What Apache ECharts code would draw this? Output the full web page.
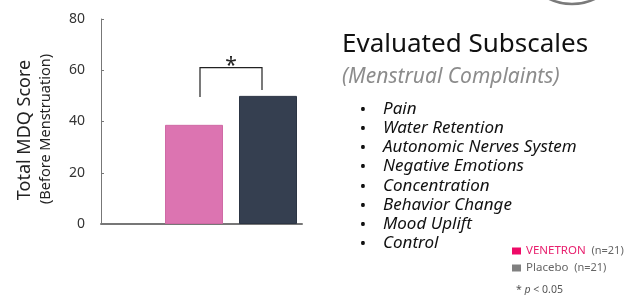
<!DOCTYPE html>
<html>
<head>
<meta charset="utf-8">
<script src="https://cdn.jsdelivr.net/npm/echarts@6/dist/echarts.min.js"></script>
<style>
html,body{margin:0;padding:0;background:#fff;}
#chart{width:624px;height:295px;}
</style>
</head>
<body>
<div id="chart"></div>
<script>
// ---- data ----
const categories = ['VENETRON', 'Placebo'];
const scores = [38.7, 50];
const groupN = [21, 21];
const yMin = 0, yMax = 80, yInterval = 20;
const bracketLeft = 49.6, bracketRight = 52.3, bracketTop = 61;
const sigLabel = '*';
const pThreshold = '0.05';
const yTitle = 'Total MDQ Score';
const ySubTitle = '(Before Menstruation)';
const panelTitle = 'Evaluated Subscales';
const panelSubtitle = '(Menstrual Complaints)';
const subscales = ['Pain', 'Water Retention', 'Autonomic Nerves System', 'Negative Emotions',
  'Concentration', 'Behavior Change', 'Mood Uplift', 'Control'];

// ---- styles ----
const barColors = ['#dc74b1', '#353f50'];
const legendColors = ['#ee0a67', '#808080'];
const FONT = 'Noto Sans';

const chart = echarts.init(document.getElementById('chart'), null, {renderer: 'canvas'});

const barSeries = categories.map((c, i) => ({
  type: 'bar', name: c, xAxisIndex: 1, yAxisIndex: 1,
  data: categories.map((_, j) => j === i ? scores[i] : '-'),
  barWidth: 58, barGap: '-100%',
  itemStyle: {color: barColors[i], borderColor: i === 0 ? '#cf6aa5' : '#2c3544', borderWidth: 1},
  silent: true
}));

const bracketSeries = {
  type: 'custom', xAxisIndex: 1, yAxisIndex: 1, silent: true, clip: false,
  data: [[0, 1, bracketLeft, bracketRight, bracketTop]],
  encode: {x: [0, 1], y: [2, 3, 4]},
  renderItem: function (params, api) {
    const a = api.coord([api.value(0), api.value(2)]);
    const b = api.coord([api.value(0), api.value(4)]);
    const c = api.coord([api.value(1), api.value(4)]);
    const d = api.coord([api.value(1), api.value(3)]);
    const inset = 6;
    return {
      type: 'group',
      children: [{
        type: 'polyline',
        shape: {points: [[a[0] + inset, a[1]], [b[0] + inset, b[1]], [c[0] - inset, c[1]], [d[0] - inset, d[1]]]},
        style: {stroke: '#222', lineWidth: 1.2, fill: null}
      }, {
        type: 'text',
        style: {text: sigLabel, x: (b[0] + c[0]) / 2, y: b[1] + 9, align: 'center', verticalAlign: 'bottom',
          fontSize: 21, fontFamily: FONT, fill: '#222'}
      }]
    };
  }
};

const graphics = [
  {type: 'text', rotation: Math.PI / 2, x: 25, y: 130,
    style: {text: yTitle, align: 'center', verticalAlign: 'middle', fontSize: 18, fontFamily: FONT, fill: '#222'}},
  {type: 'text', rotation: Math.PI / 2, x: 46, y: 129,
    style: {text: ySubTitle, align: 'center', verticalAlign: 'middle', fontSize: 14.5, fontFamily: FONT, fill: '#222'}},
  {type: 'text', x: 342, y: 45,
    style: {text: panelTitle, align: 'left', verticalAlign: 'middle', fontSize: 26, fontFamily: FONT, fill: '#111'}},
  {type: 'text', x: 342, y: 77,
    style: {text: panelSubtitle, align: 'left', verticalAlign: 'middle', fontSize: 21, fontStyle: 'italic', fontFamily: FONT, fill: '#8c8c8c'}},
  {type: 'text', x: 516, y: 290,
    style: {text: '* {i|p} < ' + pThreshold, align: 'left', verticalAlign: 'middle', fontSize: 10.5, fontFamily: FONT, fill: '#555',
      rich: {i: {fontStyle: 'italic', fontSize: 10.5, fontFamily: FONT, fill: '#555'}}}},
  {type: 'circle', shape: {cx: 572, cy: -48, r: 52}, style: {stroke: '#7a7a7a', lineWidth: 2.5, fill: null}}
];

subscales.forEach((s, i) => {
  const y = 109 + i * 19.2;
  graphics.push({type: 'text', x: 363, y: y + 1,
    style: {text: '•', align: 'center', verticalAlign: 'middle', fontSize: 17, fontFamily: FONT, fill: '#111'}});
  graphics.push({type: 'text', x: 383, y: y,
    style: {text: s, align: 'left', verticalAlign: 'middle', fontSize: 17, fontStyle: 'italic', fontFamily: FONT, fill: '#111'}});
});

const option = {
  animation: false,
  grid: [
    {left: 101, width: 201, top: 19, height: 205, containLabel: false},
    {left: 157, width: 148, top: 19, height: 205, containLabel: false}
  ],
  xAxis: [
    {gridIndex: 0, type: 'category', data: [''], axisLine: {lineStyle: {color: '#777', width: 2}},
      axisTick: {show: false}, axisLabel: {show: false}},
    {gridIndex: 1, type: 'category', data: categories, show: false}
  ],
  yAxis: [
    {gridIndex: 0, type: 'value', min: yMin, max: yMax, interval: yInterval,
      axisLine: {show: true, lineStyle: {color: '#777', width: 1}},
      axisTick: {show: true, inside: true, length: 3, lineStyle: {color: '#777'}},
      axisLabel: {color: '#333', fontSize: 14, fontFamily: FONT, margin: 16},
      splitLine: {show: false}},
    {gridIndex: 1, type: 'value', min: yMin, max: yMax, interval: yInterval, show: false, splitLine: {show: false}}
  ],
  legend: {
    orient: 'vertical', left: 507, top: 240, itemWidth: 9, itemHeight: 7, itemGap: 5,
    selectedMode: false,
    data: categories.map((c, i) => ({name: c, icon: 'rect', itemStyle: {color: legendColors[i], borderWidth: 0}})),
    formatter: function (name) {
      const i = categories.indexOf(name);
      return '{' + (i === 0 ? 'v' : 'p') + '|' + name + '}  {n|(n=' + groupN[i] + ')}';
    },
    textStyle: {
      fontFamily: FONT, fontSize: 11,
      rich: {
        v: {color: '#e8206e', fontSize: 11.5, fontFamily: FONT},
        p: {color: '#666', fontSize: 11.5, fontFamily: FONT},
        n: {color: '#666', fontSize: 11, fontFamily: FONT}
      }
    }
  },
  graphic: graphics,
  series: barSeries.concat([bracketSeries])
};
chart.setOption(option);
</script>
</body>
</html>
